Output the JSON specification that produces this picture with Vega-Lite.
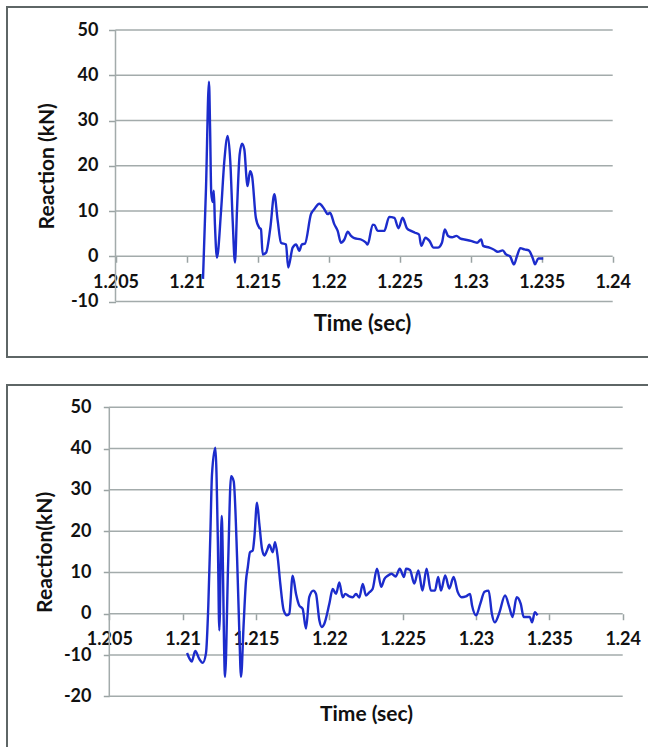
{
  "$schema": "https://vega.github.io/schema/vega-lite/v6.json",
  "padding": {"left": 6, "top": 6, "right": 0, "bottom": 0},
  "background": "white",
  "spacing": 26,
  "config": {
    "view": {"stroke": "#5e6666", "strokeWidth": 2},
    "axis": {
      "labelFont": "Lato", "labelFontWeight": "bold", "labelFontSize": 18, "labelColor": "#111111",
      "titleFont": "Lato", "titleFontWeight": "bold", "titleFontSize": 21, "titleColor": "#111111",
      "domain": false, "grid": false, "tickColor": "#9aa3a3", "tickWidth": 1.5,
      "labelOverlap": false, "labelFlush": false, "labelBound": false,
      "labelExpr": "toString(datum.value)"
    }
  },
  "datasets": {
    "gridTop": [{"r": -10}, {"r": 0}, {"r": 10}, {"r": 20}, {"r": 30}, {"r": 40}, {"r": 50}],
    "gridBottom": [{"r": -20}, {"r": -10}, {"r": 0}, {"r": 10}, {"r": 20}, {"r": 30}, {"r": 40}, {"r": 50}],
    "top": [
      {"t": 1.21116, "r": -5}, {"t": 1.21137, "r": 15}, {"t": 1.21158, "r": 38.6}, {"t": 1.21166, "r": 28},
      {"t": 1.21174, "r": 14}, {"t": 1.21184, "r": 12}, {"t": 1.21192, "r": 14.5}, {"t": 1.212, "r": 7},
      {"t": 1.21214, "r": -0.3}, {"t": 1.21243, "r": 10}, {"t": 1.21266, "r": 21}, {"t": 1.2129, "r": 26.6},
      {"t": 1.21308, "r": 21}, {"t": 1.21325, "r": 7.8}, {"t": 1.21341, "r": -1.4}, {"t": 1.21355, "r": 10},
      {"t": 1.21374, "r": 22.5}, {"t": 1.21391, "r": 24.9}, {"t": 1.21407, "r": 23.6}, {"t": 1.21424, "r": 16.6},
      {"t": 1.2143, "r": 15.5}, {"t": 1.21447, "r": 18.8}, {"t": 1.21461, "r": 17.8}, {"t": 1.21488, "r": 8.5},
      {"t": 1.21512, "r": 6.3}, {"t": 1.21524, "r": 6.0}, {"t": 1.21536, "r": 0.4}, {"t": 1.2156, "r": 0.8},
      {"t": 1.2159, "r": 6.3}, {"t": 1.21618, "r": 13.7}, {"t": 1.21642, "r": 7.8}, {"t": 1.21665, "r": 3.0},
      {"t": 1.217, "r": 2.6}, {"t": 1.21716, "r": -2.5}, {"t": 1.21747, "r": 1.9}, {"t": 1.21771, "r": 2.6},
      {"t": 1.21794, "r": 1.2}, {"t": 1.21811, "r": 2.6}, {"t": 1.21834, "r": 2.8}, {"t": 1.21876, "r": 9.3},
      {"t": 1.21899, "r": 10.4}, {"t": 1.21935, "r": 11.6}, {"t": 1.2197, "r": 10.4}, {"t": 1.21994, "r": 9.3},
      {"t": 1.2201, "r": 9.6}, {"t": 1.2204, "r": 7.1}, {"t": 1.22064, "r": 5.6}, {"t": 1.22087, "r": 3.0},
      {"t": 1.22111, "r": 3.7}, {"t": 1.22135, "r": 5.4}, {"t": 1.22158, "r": 4.5}, {"t": 1.22181, "r": 4.0},
      {"t": 1.22228, "r": 3.7}, {"t": 1.22263, "r": 3.0}, {"t": 1.22275, "r": 2.6}, {"t": 1.22311, "r": 7.0},
      {"t": 1.22323, "r": 6.9}, {"t": 1.22346, "r": 5.6}, {"t": 1.22392, "r": 5.6}, {"t": 1.22427, "r": 8.7},
      {"t": 1.22463, "r": 8.5}, {"t": 1.22492, "r": 6.2}, {"t": 1.22521, "r": 8.5}, {"t": 1.22551, "r": 6.2},
      {"t": 1.2258, "r": 5.6}, {"t": 1.22608, "r": 5.2}, {"t": 1.22637, "r": 4.8}, {"t": 1.22652, "r": 2.3},
      {"t": 1.22682, "r": 4.1}, {"t": 1.2271, "r": 3.4}, {"t": 1.22739, "r": 1.9}, {"t": 1.22769, "r": 1.9},
      {"t": 1.22798, "r": 3.0}, {"t": 1.22818, "r": 5.9}, {"t": 1.22841, "r": 4.5}, {"t": 1.22869, "r": 4.2},
      {"t": 1.229, "r": 4.5}, {"t": 1.22929, "r": 3.9}, {"t": 1.22957, "r": 3.7}, {"t": 1.23001, "r": 3.4},
      {"t": 1.23045, "r": 3.0}, {"t": 1.23074, "r": 3.7}, {"t": 1.23088, "r": 2.3}, {"t": 1.23132, "r": 1.9},
      {"t": 1.23162, "r": 1.5}, {"t": 1.23191, "r": 1.0}, {"t": 1.23226, "r": 1.3}, {"t": 1.23249, "r": 0.4},
      {"t": 1.23277, "r": 0}, {"t": 1.23305, "r": -1.8}, {"t": 1.23326, "r": 0}, {"t": 1.2335, "r": 1.8},
      {"t": 1.23379, "r": 1.5}, {"t": 1.23409, "r": 1.3}, {"t": 1.23438, "r": -0.5}, {"t": 1.23453, "r": -1.8},
      {"t": 1.23476, "r": -0.5}, {"t": 1.23511, "r": -0.5}
    ],
    "bottom": [
      {"t": 1.2103, "r": -9.5}, {"t": 1.21046, "r": -10.8}, {"t": 1.21062, "r": -11.6}, {"t": 1.21086, "r": -9.0},
      {"t": 1.21114, "r": -11.0}, {"t": 1.21137, "r": -11.9}, {"t": 1.21159, "r": -9.6}, {"t": 1.21175, "r": 2},
      {"t": 1.21189, "r": 19.3}, {"t": 1.212, "r": 33.7}, {"t": 1.21223, "r": 40.2}, {"t": 1.2124, "r": 17.7},
      {"t": 1.2125, "r": -4.0}, {"t": 1.21266, "r": 23.7}, {"t": 1.21289, "r": -15.3}, {"t": 1.2131, "r": 12},
      {"t": 1.2133, "r": 33.3}, {"t": 1.21348, "r": 32.1}, {"t": 1.21371, "r": 13.7}, {"t": 1.21386, "r": -4},
      {"t": 1.21398, "r": -15.3}, {"t": 1.21416, "r": -2.4}, {"t": 1.21432, "r": 8.0}, {"t": 1.21444, "r": 11.2},
      {"t": 1.21459, "r": 14.9}, {"t": 1.21478, "r": 15.3}, {"t": 1.21489, "r": 18.5}, {"t": 1.21507, "r": 26.9},
      {"t": 1.21523, "r": 21.7}, {"t": 1.21541, "r": 15.7}, {"t": 1.21557, "r": 14.1}, {"t": 1.21575, "r": 15.3},
      {"t": 1.21591, "r": 16.7}, {"t": 1.21614, "r": 14.9}, {"t": 1.2163, "r": 17.3}, {"t": 1.21648, "r": 13.7},
      {"t": 1.21666, "r": 7.2}, {"t": 1.21689, "r": 0.8}, {"t": 1.21711, "r": -0.4}, {"t": 1.21727, "r": 0},
      {"t": 1.2175, "r": 9.2}, {"t": 1.21773, "r": 4.8}, {"t": 1.21795, "r": 2.0}, {"t": 1.21818, "r": 1.2},
      {"t": 1.21841, "r": -3.6}, {"t": 1.21863, "r": 4.0}, {"t": 1.21891, "r": 5.6}, {"t": 1.21909, "r": 4.8},
      {"t": 1.21932, "r": -1.6}, {"t": 1.21948, "r": -3.2}, {"t": 1.21966, "r": -2.4}, {"t": 1.22, "r": 2.4},
      {"t": 1.22023, "r": 6.0}, {"t": 1.22046, "r": 4.8}, {"t": 1.22068, "r": 7.6}, {"t": 1.22091, "r": 4.0},
      {"t": 1.22109, "r": 4.8}, {"t": 1.22136, "r": 4.2}, {"t": 1.22159, "r": 4.0}, {"t": 1.22182, "r": 4.8},
      {"t": 1.22204, "r": 3.9}, {"t": 1.22228, "r": 7.2}, {"t": 1.2225, "r": 4.4}, {"t": 1.22273, "r": 5.2},
      {"t": 1.22295, "r": 6.0}, {"t": 1.22325, "r": 10.9}, {"t": 1.22354, "r": 6.5}, {"t": 1.22375, "r": 8.4},
      {"t": 1.22398, "r": 9.2}, {"t": 1.22424, "r": 9.7}, {"t": 1.22452, "r": 9.0}, {"t": 1.2248, "r": 10.9},
      {"t": 1.22509, "r": 8.9}, {"t": 1.22523, "r": 10.9}, {"t": 1.2255, "r": 10.6}, {"t": 1.22579, "r": 7.3},
      {"t": 1.22607, "r": 10.5}, {"t": 1.22635, "r": 5.6}, {"t": 1.22663, "r": 10.9}, {"t": 1.22692, "r": 5.6},
      {"t": 1.2272, "r": 5.6}, {"t": 1.22742, "r": 8.9}, {"t": 1.22761, "r": 5.6}, {"t": 1.2279, "r": 9.3},
      {"t": 1.22818, "r": 6.1}, {"t": 1.22847, "r": 8.9}, {"t": 1.22875, "r": 5.3}, {"t": 1.22902, "r": 4.0},
      {"t": 1.22931, "r": 4.2}, {"t": 1.22959, "r": 4.8}, {"t": 1.22973, "r": 2.0}, {"t": 1.23001, "r": -0.4},
      {"t": 1.23029, "r": 2.4}, {"t": 1.23058, "r": 5.3}, {"t": 1.23086, "r": 5.6}, {"t": 1.23108, "r": 0},
      {"t": 1.23128, "r": -2.1}, {"t": 1.23157, "r": 0}, {"t": 1.23198, "r": 4.4}, {"t": 1.23227, "r": 1.6},
      {"t": 1.23249, "r": -0.8}, {"t": 1.23277, "r": 4.0}, {"t": 1.23305, "r": 2.4}, {"t": 1.23325, "r": -0.8},
      {"t": 1.23367, "r": -0.8}, {"t": 1.23382, "r": -2.1}, {"t": 1.23401, "r": 0.4}, {"t": 1.23419, "r": -0.4}
    ]
  },
  "vconcat": [
    {
      "width": 642,
      "height": 350,
      "encoding": {
        "x": {
          "type": "quantitative",
          "scale": {"domain": [1.1973622, 1.2425553], "nice": false, "zero": false},
          "axis": {
            "orient": "bottom", "offset": -100.75,
            "values": [1.205, 1.21, 1.215, 1.22, 1.225, 1.23, 1.235, 1.24],
            "tickSize": 6, "labelPadding": 20.5, "labelBaseline": "middle",
            "title": "Time (sec)", "titleFontSize": 22, "titleX": 355, "titleY": 66.75, "titleAlign": "center", "titleBaseline": "middle"
          }
        },
        "y": {
          "type": "quantitative",
          "scale": {"domain": [-22.265, 55.083], "nice": false, "zero": false},
          "axis": {
            "orient": "left", "offset": -108.5,
            "values": [-10, 0, 10, 20, 30, 40, 50],
            "tickSize": 7, "labelPadding": 10.5,
            "title": "Reaction (kN)", "titleX": -68.5, "titleY": 158.75, "titleAngle": -90,
            "titleAlign": "center", "titleBaseline": "middle"
          }
        }
      },
      "layer": [
        {
          "data": {"name": "gridTop"},
          "mark": {"type": "rule", "color": "#a3abab", "strokeWidth": 1.5},
          "encoding": {
            "y": {"field": "r"},
            "x": {"datum": 1.205},
            "x2": {"datum": 1.24}
          }
        },
        {
          "data": {"values": [{"a": 1}]},
          "mark": {"type": "rule", "color": "#a3abab", "strokeWidth": 1.5},
          "encoding": {
            "x": {"datum": 1.205},
            "y": {"datum": -10},
            "y2": {"datum": 50}
          }
        },
        {
          "data": {"name": "top"},
          "mark": {"type": "line", "color": "#1c2ccc", "strokeWidth": 2.4, "interpolate": "monotone"},
          "encoding": {
            "x": {"field": "t"},
            "y": {"field": "r"}
          }
        }
      ]
    },
    {
      "width": 642,
      "height": 365,
      "encoding": {
        "x": {
          "type": "quantitative",
          "scale": {"domain": [1.198026, 1.241793], "nice": false, "zero": false},
          "axis": {
            "orient": "bottom", "offset": -136.27,
            "values": [1.205, 1.21, 1.215, 1.22, 1.225, 1.23, 1.235, 1.24],
            "tickSize": 6, "labelPadding": 20, "labelBaseline": "middle",
            "title": "Time (sec)", "titleX": 359, "titleY": 100.3, "titleAlign": "center", "titleBaseline": "middle"
          }
        },
        "y": {
          "type": "quantitative",
          "scale": {"domain": [-33.007, 55.401], "nice": false, "zero": false},
          "axis": {
            "orient": "left", "offset": -102.3,
            "values": [-20, -10, 0, 10, 20, 30, 40, 50],
            "tickSize": 6, "labelPadding": 12.3,
            "title": "Reaction(kN)", "titleX": -64.3, "titleY": 166.8, "titleAngle": -90,
            "titleAlign": "center", "titleBaseline": "middle"
          }
        }
      },
      "layer": [
        {
          "data": {"name": "gridBottom"},
          "mark": {"type": "rule", "color": "#a3abab", "strokeWidth": 1.5},
          "encoding": {
            "y": {"field": "r"},
            "x": {"datum": 1.205},
            "x2": {"datum": 1.24}
          }
        },
        {
          "data": {"values": [{"a": 1}]},
          "mark": {"type": "rule", "color": "#a3abab", "strokeWidth": 1.5},
          "encoding": {
            "x": {"datum": 1.205},
            "y": {"datum": -20},
            "y2": {"datum": 50}
          }
        },
        {
          "data": {"name": "bottom"},
          "mark": {"type": "line", "color": "#1c2ccc", "strokeWidth": 2.4, "interpolate": "monotone"},
          "encoding": {
            "x": {"field": "t"},
            "y": {"field": "r"}
          }
        }
      ]
    }
  ]
}
